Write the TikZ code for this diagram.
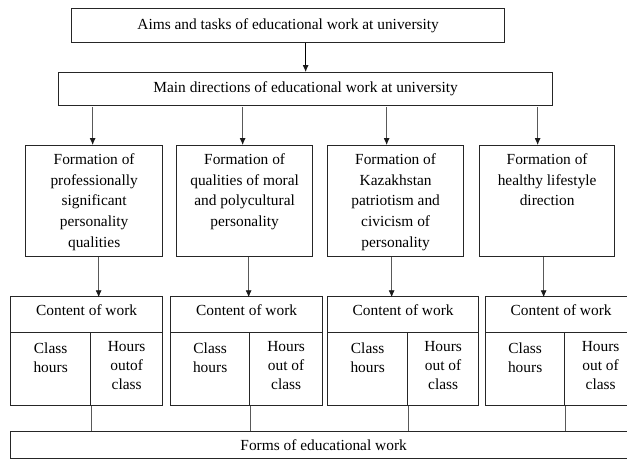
\documentclass[tikz,border=0pt]{standalone}
\usepackage{fontspec}
\setmainfont{Liberation Serif}
\usetikzlibrary{arrows.meta,positioning}

\tikzset{
	box/.style={draw=black!85,line width=1.3pt,rectangle,anchor=north west,inner sep=0pt},
	headtxt/.style={anchor=north,align=center,inner sep=0pt,yshift=-8.5pt,font=\fontsize{15.4}{20.7}\selectfont},
	classtxt/.style={anchor=north,align=center,inner sep=0pt,yshift=-11pt,font=\fontsize{15.4}{19}\selectfont},
	hourstxt/.style={anchor=north,align=center,inner sep=0pt,yshift=-9.5pt,font=\fontsize{15.4}{19}\selectfont},
	conn/.style={black!65,line width=0.8pt},
}

\begin{document}
\begin{tikzpicture}[x=1pt,y=-1pt,>={Latex[length=7pt,width=6pt,color=black!90]},font=\fontsize{15.4}{19}\selectfont]
		\useasboundingbox (0,0) rectangle (627,459);
		\node[box,minimum width=433,minimum height=34] (aims) at (71,8) {Aims and tasks of educational work at university};
		\node[box,minimum width=494,minimum height=33] (main) at (58,72) {Main directions of educational work at university};
		%
		\node[box,minimum width=137,minimum height=111,label={[headtxt]north:{Formation of\\professionally\\significant\\personality\\qualities}}] (form1) at (25,145) {};
		\node[box,minimum width=136,minimum height=111,label={[headtxt]north:{Formation of\\qualities of moral\\and polycultural\\personality}}] (form2) at (176,145) {};
		\node[box,minimum width=136,minimum height=111,label={[headtxt]north:{Formation of\\Kazakhstan\\patriotism and\\civicism of\\personality}}] (form3) at (327,145) {};
		\node[box,minimum width=135,minimum height=111,label={[headtxt]north:{Formation of\\healthy lifestyle\\direction}}] (form4) at (479,145) {};
		%
		\node[box,minimum width=152,minimum height=36,label={[headtxt]north:{Content of work}}] (cont1) at (10,296) {};
		\node[box,minimum width=80,minimum height=73,label={[classtxt]north:{Class\\hours}}] (class1) at (10,332) {};
		\node[box,minimum width=72,minimum height=73,label={[hourstxt]north:{Hours\\outof\\class}}] (hours1) at (90,332) {};
		\node[box,minimum width=152,minimum height=36,label={[headtxt]north:{Content of work}}] (cont2) at (170,296) {};
		\node[box,minimum width=79,minimum height=73,label={[classtxt]north:{Class\\hours}}] (class2) at (170,332) {};
		\node[box,minimum width=73,minimum height=73,label={[hourstxt]north:{Hours\\out of\\class}}] (hours2) at (249,332) {};
		\node[box,minimum width=151,minimum height=36,label={[headtxt]north:{Content of work}}] (cont3) at (327,296) {};
		\node[box,minimum width=80,minimum height=73,label={[classtxt]north:{Class\\hours}}] (class3) at (327,332) {};
		\node[box,minimum width=71,minimum height=73,label={[hourstxt]north:{Hours\\out of\\class}}] (hours3) at (407,332) {};
		\node[box,minimum width=151,minimum height=36,label={[headtxt]north:{Content of work}}] (cont4) at (485,296) {};
		\node[box,minimum width=79,minimum height=73,label={[classtxt]north:{Class\\hours}}] (class4) at (485,332) {};
		\node[box,minimum width=72,minimum height=73,label={[hourstxt]north:{Hours\\out of\\class}}] (hours4) at (564,332) {};
		%
		\node[box,minimum width=626,minimum height=27] (forms) at (10,431) {Forms of educational work};
		%
		\path[->,black,line width=0.8pt]
		(aims.south -| main.north) edge (main.north);
		\path[->,conn]
		([xshift=-1.5pt,yshift=38pt]form1.north) edge ([xshift=-1.5pt]form1.north)
		([xshift=-2pt,yshift=38pt]form2.north) edge ([xshift=-2pt]form2.north)
		([xshift=-9pt,yshift=38pt]form3.north) edge ([xshift=-9pt]form3.north)
		([xshift=-9.5pt,yshift=38pt]form4.north) edge ([xshift=-9.5pt]form4.north)
		([xshift=4.5pt]form1.south) edge ([xshift=4.5pt,yshift=-40pt]form1.south)
		([xshift=4pt]form2.south) edge ([xshift=4pt,yshift=-40pt]form2.south)
		([xshift=-4pt]form3.south) edge ([xshift=-4pt,yshift=-40pt]form3.south)
		([xshift=-3.5pt]form4.south) edge ([xshift=-3.5pt,yshift=-40pt]form4.south);
		\path[conn]
		(class1.south east) edge (class1.south east |- forms.north)
		(class2.south east) edge (class2.south east |- forms.north)
		(class3.south east) edge (class3.south east |- forms.north)
		(class4.south east) edge (class4.south east |- forms.north);
\end{tikzpicture}
\end{document}
